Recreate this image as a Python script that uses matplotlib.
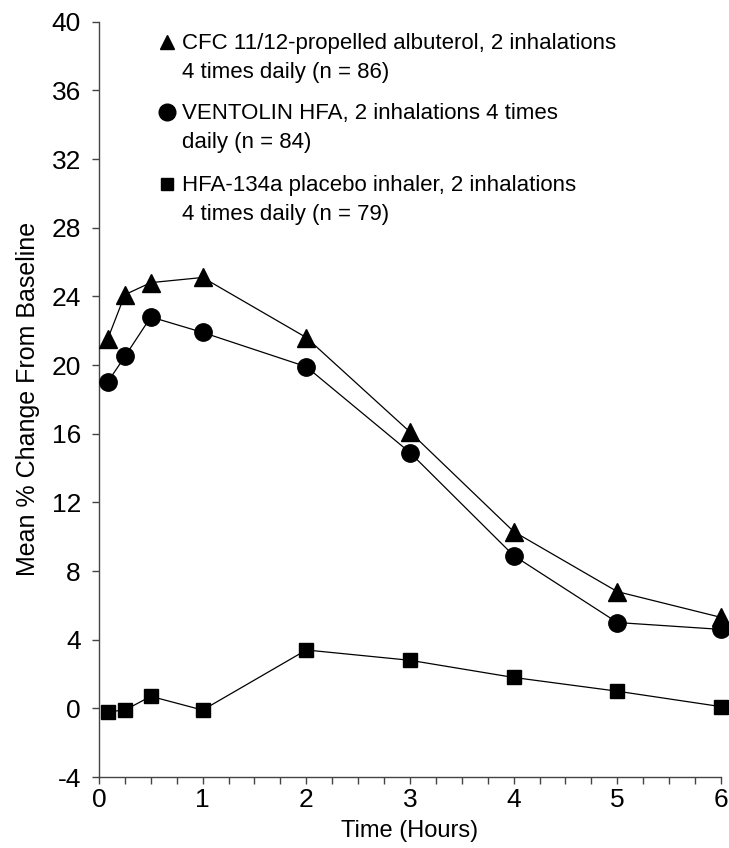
import numpy as np
import matplotlib
matplotlib.use('Agg')
import matplotlib.pyplot as plt
from matplotlib.ticker import MultipleLocator

plt.rcParams['font.family'] = ['Liberation Sans', 'DejaVu Sans']
plt.rcParams['axes.unicode_minus'] = False

# time points (hours)
hours = [0.083, 0.25, 0.5, 1, 2, 3, 4, 5, 6]

# mean % change from baseline
cfc_albuterol = [21.5, 24.1, 24.8, 25.1, 21.6, 16.1, 10.3, 6.8, 5.3]
ventolin_hfa = [19.0, 20.5, 22.8, 21.9, 19.9, 14.9, 8.9, 5.0, 4.6]
placebo = [-0.2, -0.1, 0.7, -0.1, 3.4, 2.8, 1.8, 1.0, 0.1]

series_labels = [
    'CFC 11/12-propelled albuterol, 2 inhalations\n4 times daily (n = 86)',
    'VENTOLIN HFA, 2 inhalations 4 times\ndaily (n = 84)',
    'HFA-134a placebo inhaler, 2 inhalations\n4 times daily (n = 79)',
]
series_markers = ['^', 'o', 's']

y_ticks = np.arange(-4, 41, 4)
x_ticks = np.arange(0, 7, 1)

fig = plt.figure(figsize=(7.29, 8.48), dpi=100)
ax = fig.add_axes([0.1358, 0.0837, 0.8532, 0.8907])

all_series = [cfc_albuterol, ventolin_hfa, placebo]
sizes = [12.5, 12.5, 9.5]
for vals, mk, ms in zip(all_series, series_markers, sizes):
    ax.plot(hours, vals, color='black', lw=0.9, marker=mk, ms=ms,
            markerfacecolor='black', markeredgecolor='black', clip_on=False, zorder=3)

ax.set_xlim(0, 6)
ax.set_ylim(-4, 40)
ax.set_xticks(x_ticks)
ax.xaxis.set_minor_locator(MultipleLocator(0.25))
ax.set_yticks(y_ticks)

for side in ['top', 'right']:
    ax.spines[side].set_visible(False)
for side in ['left', 'bottom']:
    ax.spines[side].set_color('#444444')
    ax.spines[side].set_linewidth(1.0)

ax.tick_params(axis='both', which='both', direction='out', color='#444444', width=1.0)
ax.tick_params(axis='x', which='major', length=5, pad=3, labelsize=19)
ax.tick_params(axis='x', which='minor', length=5)
ax.tick_params(axis='y', which='major', length=5, pad=8, labelsize=19)

ax.set_xlabel('Time (Hours)', fontsize=17, labelpad=6)
ax.set_ylabel('Mean % Change From Baseline', fontsize=18, labelpad=8)

# legend drawn by hand, marker next to first line of each label
leg_marker_y = [0.973, 0.880, 0.785]
leg_text_y = [0.985, 0.892, 0.797]
leg_ms = [10, 12, 8]
for lab, mk, my, ty, ms in zip(series_labels, series_markers, leg_marker_y, leg_text_y, leg_ms):
    ax.plot([0.109], [my], marker=mk, ms=ms, color='black', transform=ax.transAxes,
            clip_on=False, linestyle='none')
    ax.text(0.133, ty, lab, transform=ax.transAxes, fontsize=16, va='top',
            ha='left', linespacing=1.5)

fig.savefig('out.png', dpi=100)
